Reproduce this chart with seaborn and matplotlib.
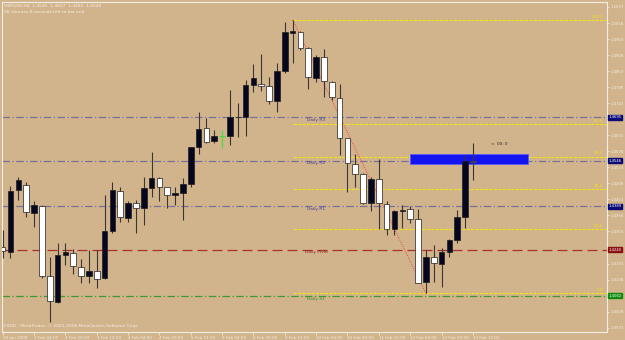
import numpy as np
import pandas as pd
import matplotlib
matplotlib.use("Agg")
import matplotlib.pyplot as plt
import seaborn as sns

# ---------------- data (GBPUSD H4) ----------------
opens = [1.4249, 1.4234, 1.4446, 1.4461, 1.4368, 1.4392, 1.4149, 1.4061, 1.4221, 1.4229,
         1.4181, 1.4149, 1.4166, 1.4142, 1.4305, 1.4443, 1.4349, 1.4402, 1.4383, 1.4451,
         1.4486, 1.4454, 1.4427, 1.4434, 1.4465, 1.4592, 1.4657, 1.4615, 1.4631, 1.4632,
         1.4694, 1.4694, 1.4806, 1.4808, 1.4802, 1.4749, 1.4854, 1.4985, 1.4986, 1.4931,
         1.4829, 1.4901, 1.4817, 1.4760, 1.4623, 1.4535, 1.4501, 1.4400, 1.4482, 1.4398,
         1.4311, 1.4374, 1.4379, 1.4345, 1.4131, 1.4214, 1.4192, 1.4231, 1.4274, 1.4354,
         1.4545]
highs = [1.4309, 1.4459, 1.4491, 1.4474, 1.4408, 1.4394, 1.4217, 1.4265, 1.4265, 1.4242,
         1.4208, 1.4240, 1.4238, 1.4429, 1.4474, 1.4454, 1.4406, 1.4411, 1.4491, 1.4575,
         1.4491, 1.4457, 1.4457, 1.4486, 1.4594, 1.4714, 1.4691, 1.4651, 1.4651, 1.4789,
         1.4743, 1.4823, 1.4877, 1.4911, 1.4834, 1.4882, 1.5023, 1.5029, 1.4989, 1.4937,
         1.4909, 1.4928, 1.4819, 1.4808, 1.4623, 1.4569, 1.4503, 1.4491, 1.4551, 1.4406,
         1.4377, 1.4394, 1.4389, 1.4379, 1.4240, 1.4257, 1.4246, 1.4277, 1.4377, 1.4566,
         1.4607]
lows = [1.4211, 1.4211, 1.4411, 1.4354, 1.4320, 1.4143, 1.3994, 1.4057, 1.4189, 1.4158,
        1.4126, 1.4126, 1.4109, 1.4139, 1.4297, 1.4334, 1.4337, 1.4297, 1.4326, 1.4423,
        1.4406, 1.4383, 1.4394, 1.4343, 1.4457, 1.4569, 1.4608, 1.4606, 1.4590, 1.4598,
        1.4626, 1.4629, 1.4783, 1.4786, 1.4741, 1.4714, 1.4846, 1.4880, 1.4926, 1.4791,
        1.4817, 1.4766, 1.4754, 1.4566, 1.4440, 1.4457, 1.4398, 1.4375, 1.4311, 1.4291,
        1.4291, 1.4314, 1.4331, 1.4126, 1.4091, 1.4131, 1.4114, 1.4217, 1.4263, 1.4314,
        1.4481]
closes = [1.4235, 1.4443, 1.4480, 1.4369, 1.4394, 1.4151, 1.4063, 1.4223, 1.4231, 1.4185,
          1.4149, 1.4168, 1.4139, 1.4305, 1.4445, 1.4352, 1.4400, 1.4383, 1.4451, 1.4486,
          1.4455, 1.4429, 1.4434, 1.4465, 1.4592, 1.4655, 1.4611, 1.4632, 1.4631, 1.4694,
          1.4697, 1.4806, 1.4831, 1.4801, 1.4750, 1.4854, 1.4986, 1.4989, 1.4931, 1.4832,
          1.4903, 1.4819, 1.4763, 1.4623, 1.4537, 1.4501, 1.4400, 1.4483, 1.4400, 1.4311,
          1.4375, 1.4377, 1.4345, 1.4128, 1.4214, 1.4194, 1.4231, 1.4274, 1.4354, 1.4546,
          1.4540]

time_tick_idx = [0, 4, 8, 12, 16, 20, 24, 28, 32, 36, 40, 44, 48, 52, 56, 60]
time_labels = ["30 Jan 2009", "2 Feb 04:00", "2 Feb 20:00", "3 Feb 12:00", "4 Feb 04:00",
               "4 Feb 20:00", "5 Feb 12:00", "6 Feb 04:00", "6 Feb 20:00", "9 Feb 12:00",
               "10 Feb 04:00", "10 Feb 20:00", "11 Feb 12:00", "12 Feb 04:00",
               "12 Feb 20:00", "13 Feb 12:00"]

price_ticks = [1.5073, 1.5018, 1.4963, 1.4908, 1.4853, 1.4798, 1.4743, 1.4688, 1.4633,
               1.4578, 1.4523, 1.4468, 1.4413, 1.4358, 1.4303, 1.4248, 1.4193, 1.4138,
               1.4083, 1.4028, 1.3973]

pivot_names = ["Daily R3", "Daily R2", "Daily R1", "Daily Pivot", "Daily S1"]
pivot_values = [1.4695, 1.4546, 1.4389, 1.4240, 1.4082]

fib_levels = [1.0, 0.618, 0.5, 0.382, 0.236, 0.0]
fib_labels = ["100.0", "61.8", "50.0", "38.2", "23.6", "0.0"]
fib_high_idx, fib_low_idx = 37, 54

zone_x = [52.0, 67.0]
zone_y = [1.4534, 1.4568]

title_text = "GBPUSD,H4  1.4545  1.4607  1.4481  1.4540"
sub_text = "08 minutes 8 seconds left to bar end"
copyright_text = "FXDD - MetaTrader, \u00a9 2001-2008 MetaQuotes Software Corp."
timer_text = "<  00: 0"

df = pd.DataFrame({"open": opens, "high": highs, "low": lows, "close": closes})
df["idx"] = np.arange(len(df))

# ---------------- style ----------------
BG = "#D2B48C"
FG = "#F2EEE6"
sns.set_theme(style="white", rc={"axes.facecolor": BG, "figure.facecolor": BG})
plt.rcParams["font.family"] = ["DejaVu Sans"]

fig = plt.figure(figsize=(6.25, 3.4), dpi=100)
ax = fig.add_axes([0.003, 0.025, 0.968, 0.969])
ax.set_facecolor(BG)
ax.set_xlim(-0.1, 77.1)
ax.set_ylim(1.3960, 1.5090)

# pivot lines
piv_styles = [
    ("#76709A", (0, (6, 2, 1, 2)), "#3F3F90", "#0A0A78"),
    ("#76709A", (0, (6, 2, 1, 2)), "#3F3F90", "#0A0A78"),
    ("#76709A", (0, (6, 2, 1, 2)), "#3F3F90", "#0A0A78"),
    ("#A83030", (0, (8, 4)), "#902020", "#8B1010"),
    ("#3E9A2E", (0, (6, 2, 1, 2)), "#2E8A2E", "#108A10"),
]
for name, val, (lc, ls, tc, bc) in zip(pivot_names, pivot_values, piv_styles):
    ax.axhline(val, color=lc, lw=0.9, ls=ls, zorder=1)
    ax.text(40, val - 0.0009, name, fontsize=3.2, color=tc, ha="center", va="center", zorder=5)
    ax.text(1.002, val, f"{val:.4f}", transform=ax.get_yaxis_transform(), fontsize=2.7,
            color="white", ha="left", va="center", clip_on=False,
            bbox=dict(boxstyle="square,pad=0.15", fc=bc, ec=bc))

# fibonacci levels
fh = df["high"][fib_high_idx]
fl = df["low"][fib_low_idx]
for lev, lab in zip(fib_levels, fib_labels):
    val = fl + lev * (fh - fl)
    ax.hlines(val, fib_high_idx, 77.1, color="#EEE21A", lw=0.8, ls=(0, (3, 1)), zorder=2)
    ax.text(76.6, val + 0.0004, lab, fontsize=3.0, color="#EEE21A", ha="right", va="bottom", zorder=5)

trend = pd.DataFrame({"x": [fib_high_idx, fib_low_idx], "y": [fh, fl]})
sns.lineplot(data=trend, x="x", y="y", ax=ax, color="#F05050", lw=0.8,
             linestyle=(0, (1, 1.2)), zorder=3)

# blue zone
ax.fill_between(zone_x, zone_y[0], zone_y[1], color="#1414F0", ec="#5A5AFF", lw=0.6, zorder=3)

# candles
WICK = "#3A3636"
for _, r in df.iterrows():
    o, h, l, c, i = r["open"], r["high"], r["low"], r["close"], r["idx"]
    if o == c:
        col = "#46DC46"
        ax.vlines(i, l, h, color=col, lw=0.9, zorder=4)
        ax.hlines(o, i - 0.36, i + 0.36, color=col, lw=0.9, zorder=4)
        continue
    ax.vlines(i, l, h, color=WICK, lw=0.8, zorder=4)
    bottom = min(o, c)
    height = max(abs(c - o), 0.00012)
    face = "#06061E" if c > o else "#FFFFFF"
    ax.bar(i, height, bottom=bottom, width=0.72, color=face, edgecolor="#1E1E1E",
           linewidth=0.5, zorder=5)

# texts
ax.text(0.004, 0.993, title_text, transform=ax.transAxes, fontsize=3.2, color=FG, va="top", ha="left")
ax.text(0.004, 0.977, sub_text, transform=ax.transAxes, fontsize=3.2, color=FG, va="top", ha="left")
ax.text(0.004, 0.012, copyright_text, transform=ax.transAxes, fontsize=3.2, color=FG, va="bottom", ha="left")
ax.text(63.4, 1.4602, timer_text, fontsize=3.0, color="#202020", ha="center", va="center", zorder=6)

# axes, ticks
vis_ticks = [t for t in price_ticks if min(abs(t - p) for p in pivot_values) > 0.0018]
ax.yaxis.tick_right()
ax.set_yticks(vis_ticks)
ax.set_yticklabels([f"{t:.4f}" for t in vis_ticks])
ax.set_xticks(time_tick_idx)
ax.set_xticklabels(time_labels)
for lab in ax.get_xticklabels():
    lab.set_ha("left")
ax.tick_params(axis="y", which="both", right=True, length=1.5, width=0.5, color=FG,
               labelsize=2.7, labelcolor=FG, pad=1.2)
ax.tick_params(axis="x", which="both", bottom=True, length=2.5, width=0.5, color=FG,
               labelsize=3.0, labelcolor=FG, pad=0.5)
for s in ax.spines.values():
    s.set_color(FG)
    s.set_linewidth(0.8)
ax.set_xlabel("")
ax.set_ylabel("")
ax.grid(False)

fig.savefig("out.png", dpi=100, facecolor=BG)
